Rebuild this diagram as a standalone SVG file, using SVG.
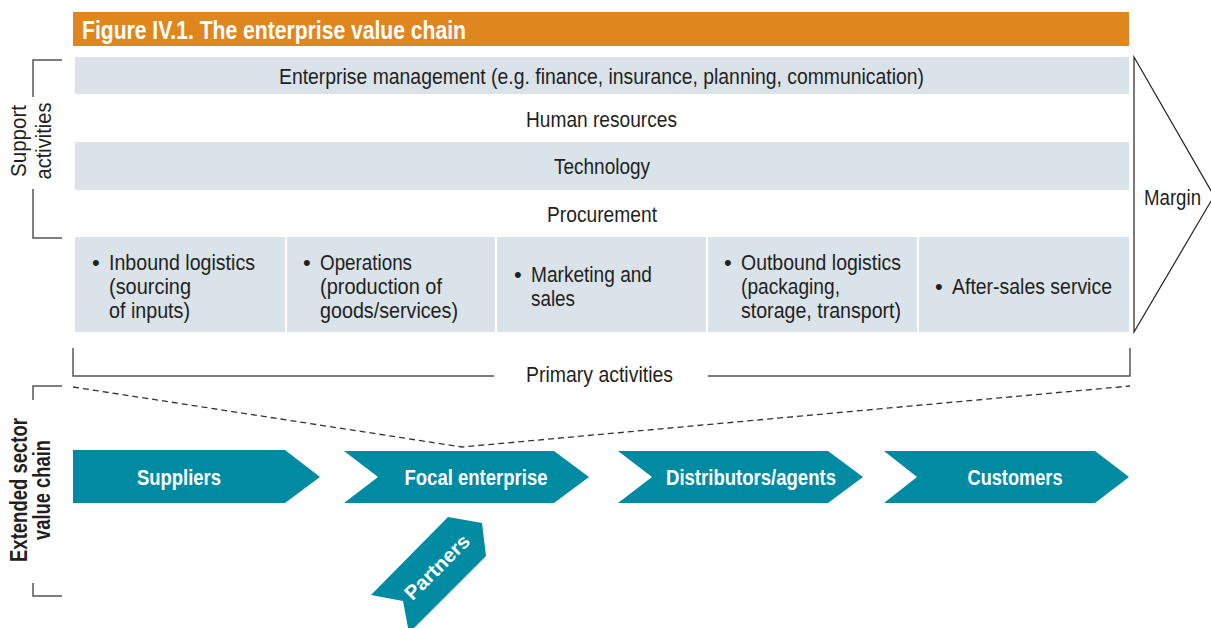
<svg xmlns="http://www.w3.org/2000/svg" width="1211" height="628" viewBox="0 0 1211 628">
<style>
  .t { font-family: "Liberation Sans Narrow", "Liberation Sans", Arial, sans-serif; font-size: 22px; fill: #231F20; }
  .tb { font-family: "Liberation Sans Narrow", "Liberation Sans", Arial, sans-serif; font-size: 23px; font-weight: bold; fill: #231F20; }
  .w { font-family: "Liberation Sans Narrow", "Liberation Sans", Arial, sans-serif; font-size: 22px; font-weight: bold; fill: #FFFFFF; }
  .band { fill: #DAE3EA; }
  .chev { fill: #008BA3; }
  .brk { fill: none; stroke: #555555; stroke-width: 1.5; }
  .dash { fill: none; stroke: #333333; stroke-width: 1.3; stroke-dasharray: 6 4; }
</style>

<g id="title">
  <rect x="73" y="12" width="1056" height="34" fill="#E0861E"/>
  <text class="w" x="82" y="39" textLength="384" lengthAdjust="spacingAndGlyphs" style="font-size:25px">Figure IV.1. The enterprise value chain</text>
</g>

<g id="enterprise-management">
  <rect class="band" x="75" y="57" width="1054" height="37"/>
  <text class="t" x="279" y="84" textLength="645" lengthAdjust="spacingAndGlyphs">Enterprise management (e.g. finance, insurance, planning, communication)</text>
</g>
<g id="human-resources">
  <text class="t" x="526" y="127" textLength="151" lengthAdjust="spacingAndGlyphs">Human resources</text>
</g>
<g id="technology">
  <rect class="band" x="75" y="142" width="1054" height="48"/>
  <text class="t" x="554" y="174" textLength="96" lengthAdjust="spacingAndGlyphs">Technology</text>
</g>
<g id="procurement">
  <text class="t" x="547" y="222" textLength="110" lengthAdjust="spacingAndGlyphs">Procurement</text>
</g>

<g id="inbound">
  <rect class="band" x="75" y="237" width="210" height="95"/>
  <text class="t" x="92" y="270">•</text>
  <text class="t" x="109" y="270" textLength="146" lengthAdjust="spacingAndGlyphs">Inbound logistics</text>
  <text class="t" x="109" y="294" textLength="82" lengthAdjust="spacingAndGlyphs">(sourcing</text>
  <text class="t" x="109" y="318" textLength="81" lengthAdjust="spacingAndGlyphs">of inputs)</text>
</g>
<g id="operations">
  <rect class="band" x="287" y="237" width="208" height="95"/>
  <text class="t" x="303" y="270">•</text>
  <text class="t" x="320" y="270" textLength="92" lengthAdjust="spacingAndGlyphs">Operations</text>
  <text class="t" x="320" y="294" textLength="122" lengthAdjust="spacingAndGlyphs">(production of</text>
  <text class="t" x="320" y="318" textLength="138" lengthAdjust="spacingAndGlyphs">goods/services)</text>
</g>
<g id="marketing">
  <rect class="band" x="497" y="237" width="209" height="95"/>
  <text class="t" x="514" y="282">•</text>
  <text class="t" x="531" y="282" textLength="121" lengthAdjust="spacingAndGlyphs">Marketing and</text>
  <text class="t" x="531" y="306" textLength="44" lengthAdjust="spacingAndGlyphs">sales</text>
</g>
<g id="outbound">
  <rect class="band" x="708" y="237" width="209" height="95"/>
  <text class="t" x="724" y="270">•</text>
  <text class="t" x="741" y="270" textLength="160" lengthAdjust="spacingAndGlyphs">Outbound logistics</text>
  <text class="t" x="741" y="294" textLength="99" lengthAdjust="spacingAndGlyphs">(packaging,</text>
  <text class="t" x="741" y="318" textLength="160" lengthAdjust="spacingAndGlyphs">storage, transport)</text>
</g>
<g id="after-sales">
  <rect class="band" x="919" y="237" width="210" height="95"/>
  <text class="t" x="935" y="294">•</text>
  <text class="t" x="952" y="294" textLength="160" lengthAdjust="spacingAndGlyphs">After-sales service</text>
</g>

<g id="margin">
  <polygon points="1134,57 1214,196 1134,332" fill="#FFFFFF" stroke="#222222" stroke-width="1.2"/>
  <text class="t" x="1144" y="205" textLength="57" lengthAdjust="spacingAndGlyphs" style="font-size:22px">Margin</text>
</g>

<g id="support-activities">
  <path class="brk" d="M62,60 H33 V97 M33,189 V238 H62"/>
  <text class="t" transform="translate(26,141) rotate(-90)" x="0" y="0" text-anchor="middle" textLength="72" lengthAdjust="spacingAndGlyphs">Support</text>
  <text class="t" transform="translate(51,141) rotate(-90)" x="0" y="0" text-anchor="middle" textLength="77" lengthAdjust="spacingAndGlyphs">activities</text>
</g>

<g id="primary-activities">
  <path class="brk" d="M73,348 V376 H494 M708,376 H1130 V348"/>
  <text class="t" x="526" y="382" textLength="147" lengthAdjust="spacingAndGlyphs">Primary activities</text>
</g>

<g id="extended-sector">
  <path class="brk" d="M62,386 H33 V400 M33,583 V596 H62"/>
  <text class="tb" transform="translate(27,490) rotate(-90)" x="0" y="0" text-anchor="middle" textLength="144" lengthAdjust="spacingAndGlyphs">Extended sector</text>
  <text class="tb" transform="translate(50,490) rotate(-90)" x="0" y="0" text-anchor="middle" textLength="100" lengthAdjust="spacingAndGlyphs">value chain</text>
</g>

<g id="connectors">
  <polyline class="dash" points="73,387 462,447 1130,386"/>
</g>

<g id="suppliers">
  <polygon class="chev" points="73,450 285,450 320,477 285,503 73,503"/>
  <text class="w" x="179" y="485" text-anchor="middle" textLength="84" lengthAdjust="spacingAndGlyphs">Suppliers</text>
</g>
<g id="focal-enterprise">
  <polygon class="chev" points="344,451 554,451 589,477 554,503 344,503 378,477"/>
  <text class="w" x="476" y="485" text-anchor="middle" textLength="143" lengthAdjust="spacingAndGlyphs">Focal enterprise</text>
</g>
<g id="distributors">
  <polygon class="chev" points="618,451 828,451 863,477 828,503 618,503 652,477"/>
  <text class="w" x="751" y="485" text-anchor="middle" textLength="170" lengthAdjust="spacingAndGlyphs">Distributors/agents</text>
</g>
<g id="customers">
  <polygon class="chev" points="884,451 1095,451 1129,477 1095,503 884,503 917,477"/>
  <text class="w" x="1015" y="485" text-anchor="middle" textLength="95" lengthAdjust="spacingAndGlyphs">Customers</text>
</g>
<g id="partners">
  <polygon class="chev" points="448,517 482,523 486,556 409,633 403,601 371,595"/>
  <text class="w" transform="translate(437,567) rotate(-45)" x="0" y="7" text-anchor="middle" textLength="83" lengthAdjust="spacingAndGlyphs" style="font-size:20px">Partners</text>
</g>
</svg>
